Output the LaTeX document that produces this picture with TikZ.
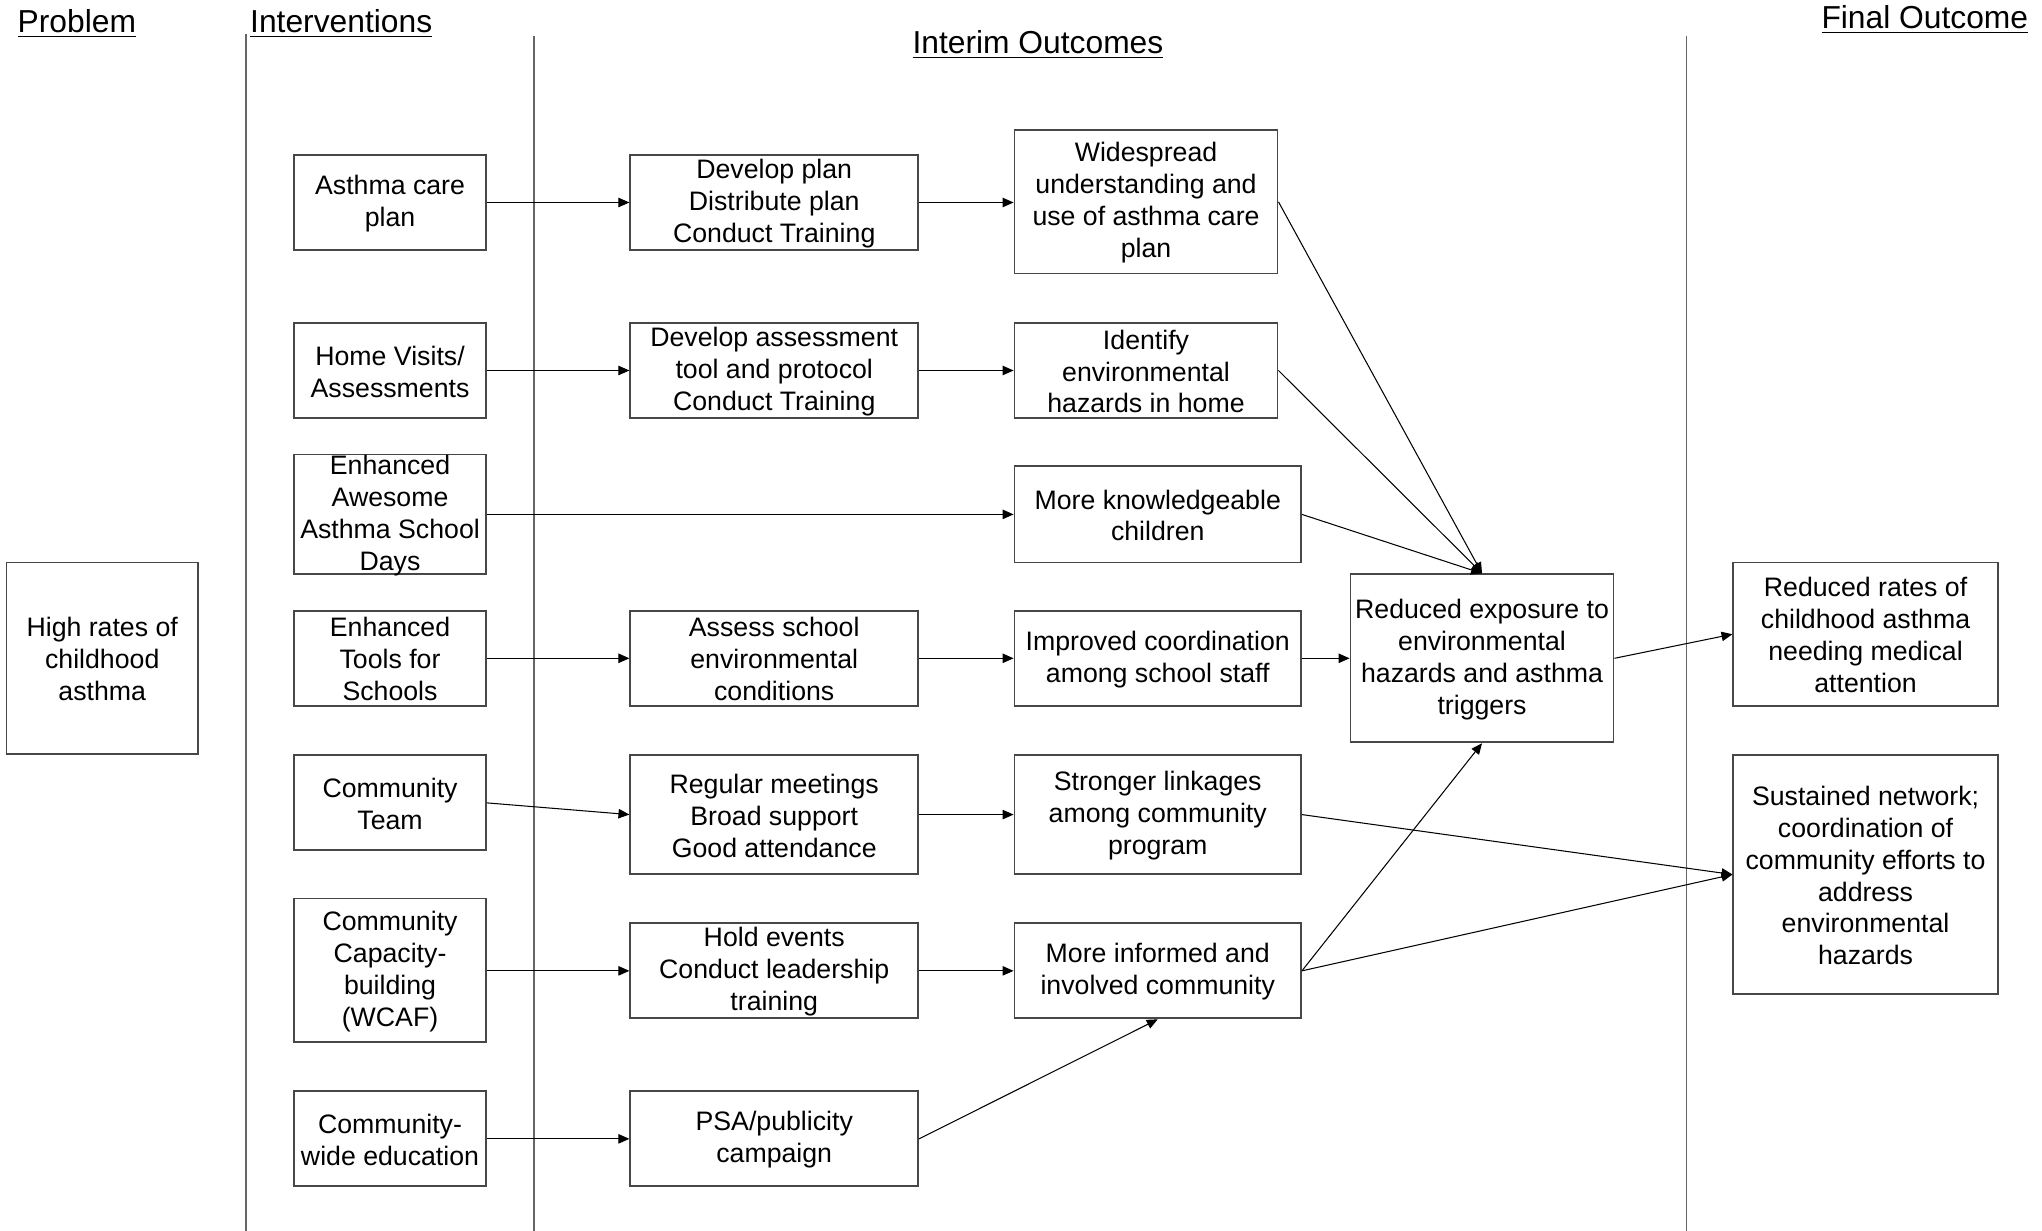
\documentclass[tikz,border=0pt]{standalone}
\usepackage{fontspec}
\setmainfont{Liberation Sans}
\usetikzlibrary{arrows.meta,fit}
\newcommand{\mybox}[4]{\node[box, fit={#2 #3}] (#1) {}; \node[txt] (#1-t) at (#1.center) {#4};}
\begin{document}
\begin{tikzpicture}[x=0.5pt,y=-0.5pt,
  box/.style={draw=black!72, line width=0.7pt, inner sep=0pt, rectangle},
  txt/.style={align=center, inner sep=0pt, yshift=-0.4pt, font=\fontsize{10.25pt}{12.25pt}\selectfont},
  hdr/.style={anchor=base, inner sep=0pt, font=\fontsize{12.2pt}{14pt}\selectfont},
  sep/.style={draw=black!60, line width=0.6pt},
  arr/.style={draw=black, line width=0.4pt, -{Triangle[length=4.2pt,width=3.6pt]}}]
\useasboundingbox (0,0) rectangle (1568,945);
% separators
\draw[sep] (189,26) -- (189,945);
\draw[sep] (410,28) -- (410,945);
\draw[sep] (1295,28) -- (1295,945);
% headers
\node[hdr] (hProb) at (59,25) {\underline{Problem}};
\node[hdr] (hInt) at (262,25) {\underline{Interventions}};
\node[hdr] (hIO) at (797,41) {\underline{Interim Outcomes}};
\node[hdr] (hFO) at (1478,22) {\underline{Final Outcome}};
% problem
\mybox{hr}{(5,432)}{(152,579)}{High rates of\\childhood\\asthma}
% interventions
\mybox{acp}{(226,119)}{(373,192)}{Asthma care\\plan}
\mybox{hv}{(226,248)}{(373,321)}{Home Visits/\\Assessments}
\mybox{eaa}{(226,349)}{(373,441)}{Enhanced\\Awesome\\Asthma School\\Days}
\mybox{ets}{(226,469)}{(373,542)}{Enhanced\\Tools for\\Schools}
\mybox{ct}{(226,580)}{(373,653)}{Community\\Team}
\mybox{ccb}{(226,690)}{(373,800)}{Community\\Capacity-\\building\\(WCAF)}
\mybox{cwe}{(226,838)}{(373,911)}{Community-\\wide education}
% column 2
\mybox{dp}{(484,119)}{(705,192)}{Develop plan\\Distribute plan\\Conduct Training}
\mybox{dat}{(484,248)}{(705,321)}{Develop assessment\\tool and protocol\\Conduct Training}
\mybox{asc}{(484,469)}{(705,542)}{Assess school\\environmental\\conditions}
\mybox{rm}{(484,580)}{(705,671)}{Regular meetings\\Broad support\\Good attendance}
\mybox{he}{(484,709)}{(705,782)}{Hold events\\Conduct leadership\\training}
\mybox{psa}{(484,838)}{(705,911)}{PSA/publicity\\campaign}
% column 3
\mybox{ws}{(779,100)}{(981,210)}{Widespread\\understanding and\\use of asthma care\\plan}
\mybox{ieh}{(779,248)}{(981,321)}{Identify\\environmental\\hazards in home}
\mybox{mkc}{(779,358)}{(999,432)}{More knowledgeable\\children}
\mybox{ic}{(779,469)}{(999,542)}{Improved coordination\\among school staff}
\mybox{sl}{(779,580)}{(999,671)}{Stronger linkages\\among community\\program}
\mybox{mic}{(779,709)}{(999,782)}{More informed and\\involved community}
% column 4
\mybox{rex}{(1037,441)}{(1239,570)}{Reduced exposure to\\environmental\\hazards and asthma\\triggers}
% final
\mybox{rr}{(1331,432)}{(1534,542)}{Reduced rates of\\childhood asthma\\needing medical\\attention}
\mybox{sn}{(1331,580)}{(1534,763)}{Sustained network;\\coordination of\\community efforts to\\address\\environmental\\hazards}
% connectors
\draw[arr] (acp.east) -- (dp.west);
\draw[arr] (dp.east) -- (ws.west |- dp.east);
\draw[arr] (hv.east) -- (dat.west);
\draw[arr] (dat.east) -- (ieh.west);
\draw[arr] (eaa.east) -- (mkc.west);
\draw[arr] (ets.east) -- (asc.west);
\draw[arr] (asc.east) -- (ic.west);
\draw[arr] (ic.east) -- (rex.west);
\draw[arr] (ct.east) -- (rm.west);
\draw[arr] (rm.east) -- (sl.west);
\draw[arr] (ccb.east |- he.west) -- (he.west);
\draw[arr] (he.east) -- (mic.west);
\draw[arr] (cwe.east) -- (psa.west);
\draw[arr] (psa.east) -- (mic.south);
\draw[arr] (ws.east) -- (rex.north);
\draw[arr] (ieh.east) -- (rex.north);
\draw[arr] (mkc.east) -- (rex.north);
\draw[arr] (mic.east) -- (rex.south);
\draw[arr] (mic.east) -- (sn.west);
\draw[arr] (sl.east) -- (sn.west);
\draw[arr] (rex.east) -- (rr.west);
\end{tikzpicture}
\end{document}
